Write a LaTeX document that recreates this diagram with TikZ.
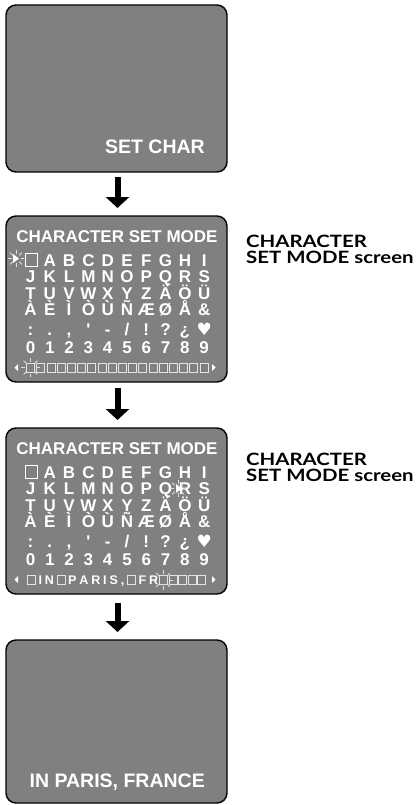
\documentclass[tikz,border=0pt]{standalone}
\usepackage{fontspec}
\setmainfont{Liberation Sans}
\newfontfamily\lblfont[FakeStretch=1.2]{Lato}
\newfontfamily\symfont{DejaVu Sans}
\usetikzlibrary{arrows.meta}
\definecolor{scr}{gray}{0.5}
\definecolor{sparkc}{gray}{0.88}
\definecolor{sqc}{gray}{0.9}

\newcommand\sparkle[3]{%
  \foreach \a in {0,45,...,315} \draw[spark] (#1,#2) ++(\a:#3) -- ++(\a:3.8);}

\newcommand\charset[2]{% #1 top y of screen, #2 name prefix
  \node[ttl] (#2-title) at (117,#1+26) {CHARACTER SET MODE};
  \draw[cell] (25,#1+37) rectangle (37,#1+50);
  \foreach \c [count=\i] in {A,B,C,D,E,F,G,H,I}
    \node[ch] (#2-a\i) at (30.5+19.3*\i,#1+50) {\c};
  \foreach \c [count=\i from 0] in {J,K,L,M,N,O,P,Q,R,S}
    \node[ch] (#2-b\i) at (30.5+19.3*\i,#1+66.5) {\c};
  \foreach \c [count=\i from 0] in {T,U,V,W,X,Y,Z,Ä,Ö,Ü}
    \node[ch] (#2-c\i) at (30.5+19.3*\i,#1+83) {\c};
  \foreach \c [count=\i from 0] in {À,È,Ì,Ò,Ù,Ñ,Æ,Ø,Å,\&}
    \node[ch] (#2-d\i) at (30.5+19.3*\i,#1+99.5) {\c};
  \foreach \c [count=\i from 0] in {:,.,{,},\textquotesingle,-,/,!,?,¿,{\symfont ♥}}
    \node[ch] (#2-e\i) at (30.5+19.3*\i,#1+119) {\c};
  \foreach \c [count=\i from 0] in {0,1,2,3,4,5,6,7,8,9}
    \node[ch] (#2-f\i) at (30.5+19.3*\i,#1+137) {\c};
  \fill[white] (14.5,#1+151.5) -- (18,#1+148) -- (18,#1+155) -- cycle;
  \fill[white] (215.5,#1+151.5) -- (212,#1+148) -- (212,#1+155) -- cycle;
}

\begin{document}
\begin{tikzpicture}[x=1pt,y=-1pt,
  screen/.style={draw=black, line width=1.4pt, fill=scr, rounded corners=10pt,
    minimum width=221pt, inner sep=0pt, outer sep=0pt},
  ch/.style={anchor=base, text=white, inner sep=0pt,
    font=\fontsize{17}{17}\selectfont\bfseries},
  small/.style={anchor=base west, text=white, inner sep=0pt,
    font=\fontsize{12.5}{12.5}\selectfont\bfseries},
  blank/.style={anchor=base west, draw=sqc, line width=0.8pt, inner sep=0pt,
    minimum width=8pt, text height=9pt, text depth=0pt},
  ttl/.style={anchor=base, text=white, inner sep=0pt,
    font=\fontsize{17}{17}\selectfont\bfseries},
  big/.style={anchor=base east, text=white, inner sep=0pt,
    font=\fontsize{19.5}{19.5}\selectfont\bfseries},
  lbl/.style={anchor=north west, inner sep=0pt, align=left,
    font=\fontsize{17}{16}\selectfont\lblfont\bfseries},
  flow/.style={line width=6pt, -{Triangle[width=23pt,length=11pt]}},
  spark/.style={draw=sparkc, line width=0.8pt},
  cell/.style={draw=white, line width=0.9pt},
  barsq/.style={draw=sqc, line width=0.8pt}]

\useasboundingbox (0,0) rectangle (416,805);

% screens
\node[screen, minimum height=167pt] (s1) at (116.5,88.5) {};
\node[screen, minimum height=166pt] (s2) at (116.5,299) {};
\node[screen, minimum height=166pt] (s3) at (116.5,511) {};
\node[screen, minimum height=163pt] (s4) at (116.5,721.5) {};

% arrows
\draw[flow, shorten <=5pt, shorten >=8pt] ([xshift=1pt]s1.south) -- ([xshift=1pt]s2.north);
\draw[flow, shorten <=6pt, shorten >=8pt] ([xshift=1pt]s2.south) -- ([xshift=1pt]s3.north);
\draw[flow, shorten <=9pt, shorten >=8pt] ([xshift=1pt]s3.south) -- ([xshift=1pt]s4.north);

% screen 1 and 4 texts
\node[big] (t1) at (205,154) {SET CHAR};
\node[big] (t4) at (205,787) {IN PARIS, FRANCE};

% screen 2
\charset{216}{p}
\foreach \k in {0,...,17}
  \draw[barsq] (26.5+10.2*\k,363) rectangle (34.5+10.2*\k,372);
\fill[white] (13,254) -- (19,258.5) -- (13,263) -- cycle;
\sparkle{16}{258.5}{4.5}
\sparkle{30.5}{367.5}{6}

% screen 3 input line
\node[blank] (q0) at (27,584.5) {};
\node[small] (q1) at ([xshift=2.5pt]q0.base east) {I};
\node[small] (q2) at ([xshift=2.5pt]q1.base east) {N};
\node[blank] (q3) at ([xshift=2.5pt]q2.base east) {};
\node[small] (q4) at ([xshift=2.5pt]q3.base east) {P};
\node[small] (q5) at ([xshift=2.5pt]q4.base east) {A};
\node[small] (q6) at ([xshift=2.5pt]q5.base east) {R};
\node[small] (q7) at ([xshift=2.5pt]q6.base east) {I};
\node[small] (q8) at ([xshift=2.5pt]q7.base east) {S};
\node[small] (q9) at ([xshift=2.5pt]q8.base east) {,};
\node[blank] (q10) at (127,584.5) {};
\node[small] (q11) at ([xshift=2.5pt]q10.base east) {F};
\node[small] (q12) at ([xshift=2.5pt]q11.base east) {R};
\foreach \k in {0,...,4}
  \node[blank] (qb\k) at (159+9.6*\k,584.5) {};
\charset{428}{q}
\fill[white] (176,484) -- (182,488.5) -- (176,493) -- cycle;
\sparkle{178}{488.5}{4.5}
\sparkle{163}{580}{6}

% side labels
\node[lbl] (l1) at (246,235) {CHARACTER\\SET MODE screen};
\node[lbl] (l2) at (246,453) {CHARACTER\\SET MODE screen};
\end{tikzpicture}
\end{document}
